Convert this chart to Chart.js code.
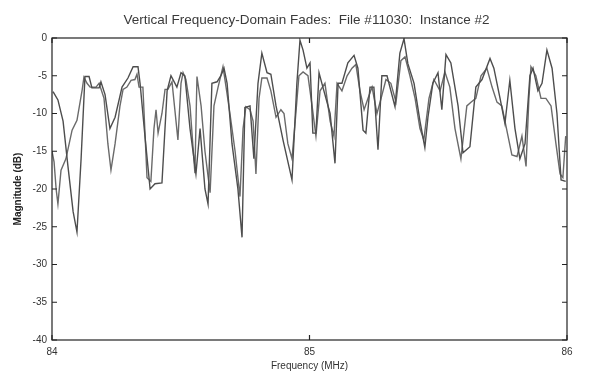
<!DOCTYPE html>
<html>
<head>
<meta charset="utf-8">
<script src="https://cdn.jsdelivr.net/npm/chart.js@4"></script>
<style>
  html, body { margin: 0; padding: 0; background: #fff; }
  #fades { display: block; }
</style>
</head>
<body>
<canvas id="fades" width="591" height="377"></canvas>
<script>
// trace 1 (frequency in MHz, magnitude in dB)
const freqA = [84.004, 84.023, 84.043, 84.062, 84.082, 84.097, 84.113, 84.128, 84.144, 84.155,
  84.183, 84.190, 84.206, 84.225, 84.245, 84.272, 84.295, 84.315, 84.334, 84.342,
  84.361, 84.381, 84.400, 84.427, 84.447, 84.462, 84.485, 84.501, 84.516, 84.536,
  84.559, 84.575, 84.594, 84.606, 84.621, 84.641, 84.656, 84.668, 84.680, 84.699,
  84.722, 84.738, 84.749, 84.769, 84.784, 84.800, 84.815, 84.835, 84.850, 84.870,
  84.897, 84.932, 84.951, 84.963, 84.975, 84.990, 85.002, 85.013, 85.025, 85.037,
  85.052, 85.080, 85.099, 85.111, 85.126, 85.149, 85.173, 85.188, 85.208, 85.219,
  85.235, 85.250, 85.266, 85.281, 85.301, 85.332, 85.351, 85.367, 85.382, 85.406,
  85.429, 85.448, 85.460, 85.479, 85.499, 85.514, 85.530, 85.549, 85.577, 85.596,
  85.623, 85.646, 85.670, 85.701, 85.716, 85.740, 85.759, 85.778, 85.798, 85.817,
  85.837, 85.856, 85.868, 85.887, 85.903, 85.922, 85.942, 85.961, 85.977, 85.995];
const magA = [-7.1, -8.2, -11, -17, -23, -25.7, -16, -5.1, -5.1, -6.6,
  -6.6, -5.8, -7.5, -12, -10.5, -6.5, -5.3, -3.8, -3.8, -6,
  -13, -20, -19.3, -19.2, -7, -5, -6.5, -4.6, -5, -12,
  -18, -12, -20, -22, -6, -5.8, -5, -4, -6, -14,
  -20, -26.4, -9.2, -9, -16, -6, -2, -4.6, -4.8, -9,
  -13.5, -18.8, -6, -0.3, -1.6, -4, -3.3, -12.6, -12.6, -4.6,
  -6.5, -10, -16.6, -6, -6, -3.3, -2.3, -4, -12.2, -12.6,
  -6.5, -6.5, -14.8, -5, -5, -9.1, -2, -0.1, -3.4, -6,
  -11, -14.5, -10.5, -6, -4.6, -9.5, -2.2, -3.3, -9, -15.2,
  -14.4, -6.5, -5.5, -2.7, -4, -8, -11.3, -5.6, -12, -16,
  -14, -5, -4, -7, -6, -1.6, -4, -10, -18.8, -19];

// trace 2
const freqB = [84.000, 84.008, 84.016, 84.023, 84.035, 84.054, 84.078, 84.097, 84.117, 84.124,
  84.136, 84.148, 84.171, 84.183, 84.202, 84.217, 84.229, 84.245, 84.264, 84.276,
  84.291, 84.307, 84.322, 84.330, 84.338, 84.353, 84.369, 84.384, 84.396, 84.404,
  84.412, 84.427, 84.439, 84.450, 84.466, 84.489, 84.501, 84.509, 84.520, 84.536,
  84.555, 84.563, 84.579, 84.594, 84.614, 84.629, 84.645, 84.664, 84.676, 84.691,
  84.711, 84.730, 84.742, 84.753, 84.769, 84.781, 84.792, 84.804, 84.815, 84.835,
  84.850, 84.870, 84.889, 84.901, 84.916, 84.932, 84.947, 84.959, 84.975, 84.994,
  85.010, 85.025, 85.041, 85.060, 85.080, 85.095, 85.107, 85.126, 85.146, 85.165,
  85.180, 85.196, 85.212, 85.227, 85.243, 85.262, 85.278, 85.297, 85.316, 85.336,
  85.355, 85.371, 85.390, 85.410, 85.429, 85.444, 85.464, 85.483, 85.507, 85.526,
  85.545, 85.565, 85.588, 85.611, 85.627, 85.646, 85.666, 85.689, 85.709, 85.728,
  85.747, 85.771, 85.786, 85.806, 85.825, 85.841, 85.852, 85.860, 85.879, 85.899,
  85.918, 85.938, 85.957, 85.973, 85.984, 85.995];
const magB = [-15, -16.4, -20, -22, -17.5, -16, -12.2, -10.9, -6.9, -5.2,
  -6, -6.5, -6.5, -6, -8, -14, -17.5, -14, -9, -6.8,
  -6.5, -5.6, -5.5, -4.8, -6.5, -6.5, -18.5, -19, -12, -9.5,
  -12.6, -10, -6.8, -6.8, -5.8, -13.5, -6, -4.6, -5.5, -9,
  -17.9, -5.1, -9, -15, -20.5, -9, -6.5, -3.8, -6.5, -10,
  -15, -21, -12, -9.1, -9.5, -11, -18, -8, -5.3, -5.3,
  -7, -10.5, -9.5, -10, -14, -16, -10, -5, -4.5, -5,
  -9, -13, -7, -6, -11, -13, -6, -7, -5, -4,
  -3.5, -7, -9.5, -8, -6.5, -10, -8, -5.5, -6, -8.5,
  -3, -2.5, -5, -8, -12, -13.5, -8, -5.5, -7, -4.5,
  -6.5, -12, -16, -9, -8.5, -8, -5, -4, -6.5, -8.5,
  -9, -13, -15.5, -15.7, -13, -17, -8, -3.8, -5, -8,
  -8, -9, -14, -18, -18.5, -13];

const xTicks = [84, 85, 86];
const yTicks = [0, -5, -10, -15, -20, -25, -30, -35, -40];
const titleText = "Vertical Frequency-Domain Fades:  File #11030:  Instance #2";

function pairs(xs, ys) {
  return xs.map(function (x, i) { return { x: x, y: ys[i] }; });
}

const fontFamily = "'Liberation Sans', Arial, sans-serif";

// MATLAB style: full box with inward tick marks, title centred over the axes
const boxTicks = {
  id: "boxTicks",
  afterDraw(chart) {
    const ctx = chart.ctx;
    const a = chart.chartArea;
    const xs = chart.scales.x;
    const ys = chart.scales.y;
    ctx.save();
    ctx.strokeStyle = "#222";
    ctx.lineWidth = 1.2;
    ctx.strokeRect(a.left, a.top, a.right - a.left, a.bottom - a.top);
    ctx.beginPath();
    yTicks.forEach(function (v) {
      const py = ys.getPixelForValue(v);
      ctx.moveTo(a.left, py); ctx.lineTo(a.left + 5, py);
      ctx.moveTo(a.right, py); ctx.lineTo(a.right - 5, py);
    });
    xTicks.forEach(function (v) {
      const px = xs.getPixelForValue(v);
      ctx.moveTo(px, a.bottom); ctx.lineTo(px, a.bottom - 5);
      ctx.moveTo(px, a.top); ctx.lineTo(px, a.top + 5);
    });
    ctx.stroke();

    ctx.fillStyle = "#3a3a3a";
    ctx.font = "13.5px " + fontFamily;
    ctx.textAlign = "center";
    ctx.textBaseline = "middle";
    ctx.fillText(titleText, (a.left + a.right) / 2 - 3, 20);
    ctx.restore();
  }
};

const font = { family: fontFamily, size: 10 };

new Chart(document.getElementById("fades"), {
  type: "scatter",
  data: {
    datasets: [
      {
        data: pairs(freqA, magA),
        showLine: true,
        borderColor: "#4d4d4d",
        borderWidth: 1.4,
        pointRadius: 0,
        tension: 0,
      },
      {
        data: pairs(freqB, magB),
        showLine: true,
        borderColor: "#6a6a6a",
        borderWidth: 1.4,
        pointRadius: 0,
        tension: 0,
      },
    ],
  },
  options: {
    responsive: false,
    animation: false,
    layout: { padding: { top: 38, right: 24, left: 12, bottom: 0 } },
    plugins: {
      legend: { display: false },
      tooltip: { enabled: false },
      title: { display: false },
    },
    scales: {
      x: {
        type: "linear",
        min: 84,
        max: 86,
        grid: { display: false, drawTicks: false },
        border: { display: false },
        afterBuildTicks: function (s) { s.ticks = xTicks.map(function (v) { return { value: v }; }); },
        afterFit: function (s) { s.height = 37; },
        ticks: { color: "#333", font: font, padding: 6, maxRotation: 0 },
        title: { display: true, text: "Frequency (MHz)", color: "#333", font: font, padding: { top: 1, bottom: 5 } },
      },
      y: {
        min: -40,
        max: 0,
        grid: { display: false, drawTicks: false },
        border: { display: false },
        afterBuildTicks: function (s) { s.ticks = yTicks.map(function (v) { return { value: v }; }); },
        afterFit: function (s) { s.width = 40; },
        ticks: { color: "#333", font: font, padding: 5 },
        title: { display: true, text: "Magnitude (dB)", color: "#222", font: { family: fontFamily, size: 10, weight: "bold" }, padding: { top: 0, bottom: 4 } },
      },
    },
  },
  plugins: [boxTicks],
});
</script>
</body>
</html>
